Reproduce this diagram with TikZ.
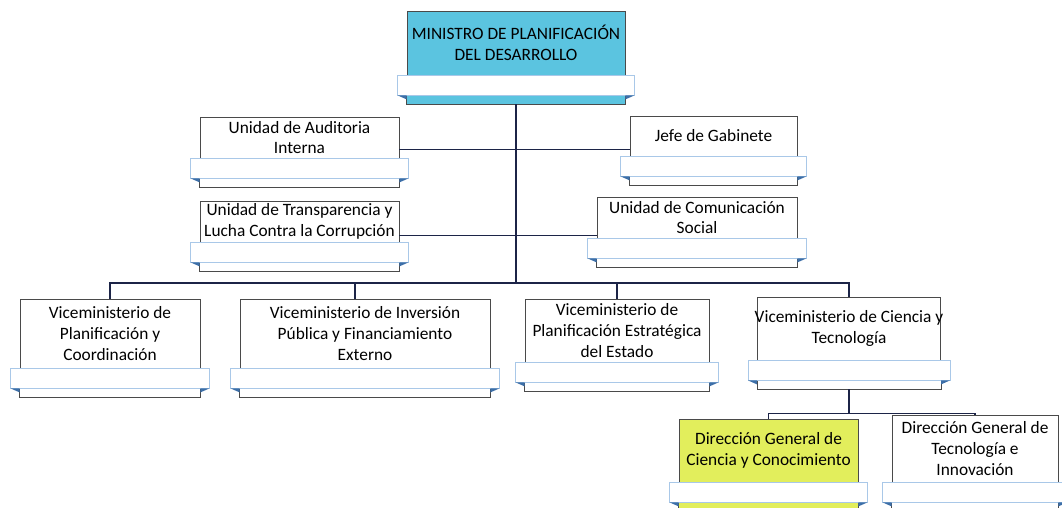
\documentclass[tikz,border=0pt]{standalone}
\usepackage{fontspec}
\setmainfont{Carlito}
\usetikzlibrary{positioning, calc}
\definecolor{mCyan}{HTML}{5BC4E0}
\definecolor{mLime}{HTML}{E2EE5C}
\definecolor{mLine}{HTML}{1C2447}
\definecolor{mEdge}{HTML}{4A4A4A}
\definecolor{mRib}{HTML}{A9C8E8}
\definecolor{mFold}{HTML}{3D6FA8}

\begin{document}
\begin{tikzpicture}[x=0.75pt, y=-0.75pt,
  unit/.style={draw=mEdge, line width=0.6pt, fill=white, align=center,
               inner sep=1pt, font=\fontsize{13}{15.5}\selectfont},
  conn/.style={draw=mLine, line width=0.9pt},
  ribbon/.style={draw=mRib, line width=0.5pt, fill=white},
]
  \useasboundingbox (0,0) rectangle (1062,507);

  % top and staff units
  \node[unit, fill=mCyan, minimum width=163.5pt, minimum height=48pt] (min) at (516,43)
    {MINISTRO DE PLANIFICACIÓN\\DEL DESARROLLO};
  \node[unit, minimum width=149.25pt, minimum height=30.75pt] (aud) at (299.5,137.5)
    {Unidad de Auditoria\\Interna};
  \node[unit, minimum width=125.25pt, minimum height=30pt] (jef) at (713.5,136)
    {Jefe de Gabinete};
  \node[unit, minimum width=149.25pt, minimum height=30.75pt] (tra) at (299.5,221.5)
    {Unidad de Transparencia y\\Lucha Contra la Corrupción};
  \node[unit, minimum width=150pt, minimum height=30.75pt] (com) at (697,217.5)
    {Unidad de Comunicación\\Social};

  % viceministerios
  \node[unit, minimum width=135pt, minimum height=51.75pt] (v1) at (110,333.5)
    {Viceministerio de\\Planificación y\\Coordinación};
  \node[unit, minimum width=187.5pt, minimum height=51.75pt] (v2) at (365,333.5)
    {Viceministerio de Inversión\\Pública y Financiamiento\\Externo};
  \node[unit, minimum width=138pt, minimum height=47.25pt] (v3) at (617,330.5)
    {Viceministerio de\\Planificación Estratégica\\del Estado};
  \node[unit, inner xsep=-2pt, minimum width=136.5pt, minimum height=47.25pt] (v4) at (849,328.5)
    {Viceministerio de Ciencia y\\Tecnología};

  % direcciones
  \node[unit, fill=mLime, minimum width=134.25pt, minimum height=47.25pt] (d1) at (768.5,450.5)
    {Dirección General de\\Ciencia y Conocimiento};
  \node[unit, minimum width=124.5pt, minimum height=50.25pt] (d2) at (975,448.5)
    {Dirección General de\\Tecnología e\\Innovación};

  % ribbon under every unit
  \foreach \n/\c in {min/mCyan, aud/white, jef/white, tra/white, com/white,
                     v1/white, v2/white, v3/white, v4/white, d1/mLime, d2/white} {
    \draw[draw=mEdge, line width=0.6pt, fill=\c] (\n.south west) rectangle ($(\n.south east)+(0,29)$);
    \draw[ribbon] ($(\n.south west)+(-9,0)$) rectangle ($(\n.south east)+(9,20)$);
    \fill[mFold] ($(\n.south west)+(-9,20)$) -- ($(\n.south west)+(0,20)$) -- ($(\n.south west)+(0,24)$) -- cycle;
    \fill[mFold] ($(\n.south east)+(9,20)$) -- ($(\n.south east)+(0,20)$) -- ($(\n.south east)+(0,24)$) -- cycle;
    \coordinate (\n-b) at ($(\n.south)+(0,29)$);
  }

  % connectors
  \coordinate (bus) at (516,283);
  \coordinate (sub) at ($(v4-b)+(0,24)$);
  \coordinate (v2t) at ($(v2.north west)!0.46!(v2.north east)$);
  \draw[conn] (min-b) -- (bus);
  \draw[conn] (aud.-7) -- (aud.-7 -| jef.west);
  \draw[conn] (tra.-8) -- (tra.-8 -| com.west);
  \draw[conn] (v1.north) |- (bus) -| (v4.north);
  \draw[conn] (v2t) -- (v2t |- bus);
  \draw[conn] (v3.north) -- (v3.north |- bus);
  \draw[conn] (v4-b) -- (sub);
  \draw[conn] (d1.north) |- (sub) -| (d2.north);
\end{tikzpicture}
\end{document}
